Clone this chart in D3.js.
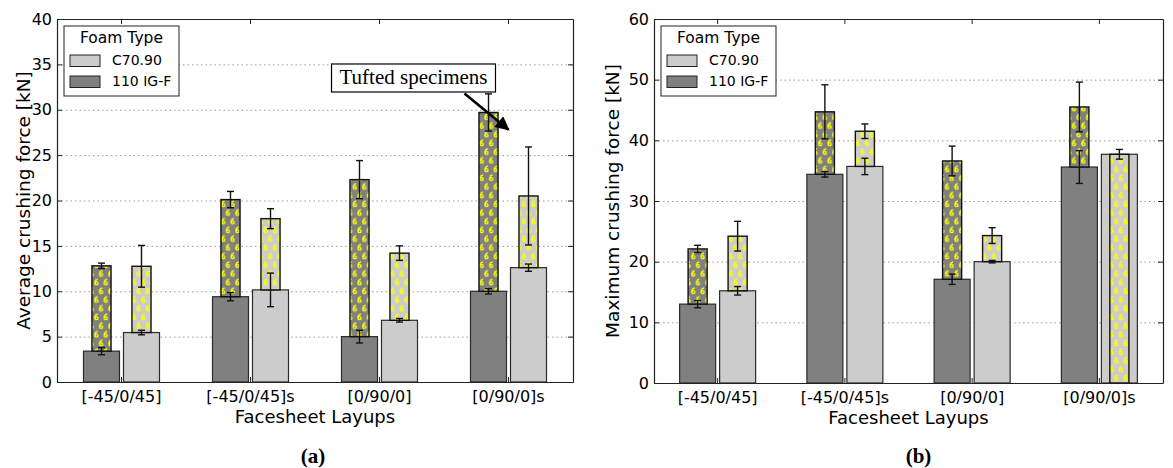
<!DOCTYPE html>
<html>
<head>
<meta charset="utf-8">
<script src="https://cdn.jsdelivr.net/npm/d3@7"></script>
<style>
  html, body { margin: 0; padding: 0; background: #fff; }
  svg { display: block; }
  text { font-family: "DejaVu Sans", sans-serif; fill: #000; }
</style>
</head>
<body>
<svg id="chart" width="1173" height="468"></svg>
<script>
// ---------- data ----------
const categories = ["[-45/0/45]", "[-45/0/45]s", "[0/90/0]", "[0/90/0]s"];
const seriesNames = ["110 IG-F", "C70.90"];
const legendOrder = ["C70.90", "110 IG-F"];

// (a) Average crushing force [kN]
const avgBase110 = [3.4, 9.4, 5.0, 10.0];
const avgBase110Err = [0.4, 0.45, 0.7, 0.3];
const avgBaseC70 = [5.45, 10.15, 6.8, 12.6];
const avgBaseC70Err = [0.25, 1.85, 0.2, 0.4];
const avgTuft110 = [12.8, 20.1, 22.3, 29.7];
const avgTuft110Err = [0.3, 0.9, 2.1, 2.05];
const avgTuftC70 = [12.75, 18.0, 14.2, 20.5];
const avgTuftC70Err = [2.3, 1.1, 0.8, 5.4];
const avgTicks = [0, 5, 10, 15, 20, 25, 30, 35, 40];

// (b) Maximum crushing force [kN]
const maxBase110 = [13.0, 34.4, 17.1, 35.6];
const maxBase110Err = [0.6, 0.45, 0.85, 2.7];
const maxBaseC70 = [15.2, 35.7, 20.0, 37.7];
const maxBaseC70Err = [0.7, 1.35, 0.2, 0.8];
const maxTuft110 = [22.1, 44.7, 36.6, 45.5];
const maxTuft110Err = [0.6, 4.45, 2.45, 4.1];
const maxTuftC70 = [24.2, 41.5, 24.3, 37.7];
const maxTuftC70Err = [2.45, 1.2, 1.3, 0];
const maxTicks = [0, 10, 20, 30, 40, 50, 60];

const annotationText = "Tufted specimens";
const annotationTarget = {cat: "[0/90/0]s", value: 27.8};
const annotationFrom = {value: 31.8, dx: -44};
const annotationBox = {value: 33.5, dx: -95};

// ---------- style ----------
const colors = {"110 IG-F": "#808080", "C70.90": "#cccccc"};

const svg = d3.select("#chart");
const defs = svg.append("defs");

// hatch pattern with yellow glyphs
function makePattern(id, bg) {
  const p = defs.append("pattern").attr("id", id)
    .attr("patternUnits", "userSpaceOnUse")
    .attr("width", 9.4).attr("height", 17.4);
  p.append("rect").attr("width", 9.4).attr("height", 17.4).attr("fill", bg);
  const glyph = (g, x, y) => {
    const gg = g.append("g").attr("transform", `translate(${x},${y})`);
    gg.append("circle").attr("cx", 0).attr("cy", 1.2).attr("r", 1.45)
      .attr("fill", "none").attr("stroke", "#ffff00").attr("stroke-width", 1.35);
    gg.append("path").attr("d", "M-1.45,1.2 C-1.5,-1.5 -0.2,-2.7 1.4,-2.8")
      .attr("fill", "none").attr("stroke", "#ffff00").attr("stroke-width", 1.35);
  };
  glyph(p, 2.4, 3.8);
  glyph(p, 7.1, 12.5);
  glyph(p, 7.1 - 9.4, 12.5);
}
makePattern("tuft-dark", colors["110 IG-F"]);
makePattern("tuft-light", colors["C70.90"]);
const patternFor = {"110 IG-F": "url(#tuft-dark)", "C70.90": "url(#tuft-light)"};

function drawPanel(cfg) {
  const {left, right, top, bottom, ticks, yLabel, base, baseErr, tuft, tuftErr, tag} = cfg;
  const g = svg.append("g");
  const x = d3.scaleBand().domain(categories).range([left, right]);
  const x1 = d3.scaleBand().domain(seriesNames).range([-38, 38]).paddingInner(0.1);
  const y = d3.scaleLinear().domain([ticks[0], ticks[ticks.length - 1]]).range([bottom, top]);
  const bw = x1.bandwidth();
  const tw = bw * 0.53;
  const cx = (cat, s) => x(cat) + x.bandwidth() / 2 + x1(s) + bw / 2;

  // gridlines
  g.append("g").attr("transform", `translate(${left},0)`)
    .call(d3.axisLeft(y).tickValues(ticks.slice(1, -1)).tickSize(-(right - left)).tickFormat(""))
    .call(a => a.select(".domain").remove())
    .call(a => a.selectAll("line").attr("stroke", "#999").attr("stroke-width", 1)
      .attr("stroke-dasharray", "1.5,3"));

  const rows = [];
  categories.forEach((c, i) => {
    seriesNames.forEach(s => {
      rows.push({cat: c, s, base: base[s][i], baseErr: baseErr[s][i], tuft: tuft[s][i], tuftErr: tuftErr[s][i]});
    });
  });

  // base bars
  g.selectAll(".base").data(rows).join("rect")
    .attr("x", d => cx(d.cat, d.s) - bw / 2)
    .attr("width", bw)
    .attr("y", d => y(d.base))
    .attr("height", d => y(0) - y(d.base))
    .attr("fill", d => colors[d.s])
    .attr("stroke", "#2a2a2a").attr("stroke-width", 1.2);

  // tufted bars (stacked on top of base; full-height when not exceeding it)
  g.selectAll(".tuft").data(rows).join("rect")
    .attr("x", d => cx(d.cat, d.s) - tw / 2)
    .attr("width", tw)
    .attr("y", d => y(Math.max(d.tuft, d.base)))
    .attr("height", d => (d.tuft > d.base ? y(d.base) : y(0)) - y(Math.max(d.tuft, d.base)))
    .attr("fill", d => patternFor[d.s])
    .attr("stroke", "#111").attr("stroke-width", 1.4);

  // error bars
  const errs = [];
  rows.forEach(d => {
    if (d.baseErr > 0) errs.push({x: cx(d.cat, d.s), v: d.base, e: d.baseErr});
    if (d.tuftErr > 0) errs.push({x: cx(d.cat, d.s), v: d.tuft, e: d.tuftErr});
  });
  const eg = g.selectAll(".err").data(errs).join("g").attr("stroke", "#111").attr("stroke-width", 1.4);
  eg.append("line").attr("x1", d => d.x).attr("x2", d => d.x)
    .attr("y1", d => y(d.v - d.e)).attr("y2", d => y(d.v + d.e));
  eg.append("line").attr("x1", d => d.x - 3.5).attr("x2", d => d.x + 3.5)
    .attr("y1", d => y(d.v + d.e)).attr("y2", d => y(d.v + d.e));
  eg.append("line").attr("x1", d => d.x - 3.5).attr("x2", d => d.x + 3.5)
    .attr("y1", d => y(d.v - d.e)).attr("y2", d => y(d.v - d.e));

  // axes (ticks inward on all sides)
  const styleAxis = a => {
    a.select(".domain").attr("stroke", "#222").attr("stroke-width", 1.2);
    a.selectAll(".tick line").attr("stroke", "#222");
    a.selectAll("text").style("font-family", "DejaVu Sans, sans-serif").style("font-size", "16px").attr("fill", "#111");
  };
  g.append("g").attr("transform", `translate(0,${bottom})`)
    .call(d3.axisBottom(x).tickSizeInner(-5).tickSizeOuter(0).tickPadding(9))
    .call(styleAxis);
  g.append("g").attr("transform", `translate(0,${top})`)
    .call(d3.axisTop(x).tickSizeInner(-5).tickSizeOuter(0).tickFormat(""))
    .call(styleAxis);
  g.append("g").attr("transform", `translate(${left},0)`)
    .call(d3.axisLeft(y).tickValues(ticks).tickSizeInner(-5).tickSizeOuter(0).tickPadding(5))
    .call(styleAxis);
  g.append("g").attr("transform", `translate(${right},0)`)
    .call(d3.axisRight(y).tickValues(ticks).tickSizeInner(-5).tickSizeOuter(0).tickFormat(""))
    .call(styleAxis);

  // axis labels
  g.append("text").attr("x", (left + right) / 2).attr("y", bottom + 41)
    .attr("text-anchor", "middle").style("font-size", "18px").text("Facesheet Layups");
  g.append("text").attr("transform", `translate(${left - cfg.ylabDx},${(top + bottom) / 2}) rotate(-90)`)
    .attr("text-anchor", "middle").style("font-size", "18.5px").text(yLabel);

  // panel tag
  g.append("text").attr("x", (left + right) / 2 + cfg.tagDx).attr("y", 463)
    .attr("text-anchor", "middle")
    .style("font-family", "Liberation Serif, serif").style("font-weight", "bold").style("font-size", "21px")
    .text(tag);

  // legend
  const lx = left + 7, ly = top + 7;
  const lg = g.append("g");
  lg.append("rect").attr("x", lx).attr("y", ly).attr("width", 115).attr("height", 70)
    .attr("fill", "#fff").attr("stroke", "#222").attr("stroke-width", 1);
  lg.append("text").attr("x", lx + 57.5).attr("y", ly + 17).attr("text-anchor", "middle")
    .style("font-size", "15.5px").text("Foam Type");
  legendOrder.forEach((s, i) => {
    lg.append("rect").attr("x", lx + 6).attr("y", ly + 29 + i * 21).attr("width", 30).attr("height", 11.5)
      .attr("fill", colors[s]).attr("stroke", "#222").attr("stroke-width", 1);
    lg.append("text").attr("x", lx + 48).attr("y", ly + 39 + i * 21)
      .style("font-size", "14px").text(s);
  });

  return {x, y};
}

const A = drawPanel({
  left: 57, right: 573, top: 19, bottom: 382, ticks: avgTicks, ylabDx: 27,
  yLabel: "Average crushing force [kN]", tag: "(a)", tagDx: -2,
  base: {"110 IG-F": avgBase110, "C70.90": avgBaseC70},
  baseErr: {"110 IG-F": avgBase110Err, "C70.90": avgBaseC70Err},
  tuft: {"110 IG-F": avgTuft110, "C70.90": avgTuftC70},
  tuftErr: {"110 IG-F": avgTuft110Err, "C70.90": avgTuftC70Err}
});

drawPanel({
  left: 654, right: 1163, top: 19, bottom: 383, ticks: maxTicks, ylabDx: 35,
  yLabel: "Maximum crushing force [kN]", tag: "(b)", tagDx: 10,
  base: {"110 IG-F": maxBase110, "C70.90": maxBaseC70},
  baseErr: {"110 IG-F": maxBase110Err, "C70.90": maxBaseC70Err},
  tuft: {"110 IG-F": maxTuft110, "C70.90": maxTuftC70},
  tuftErr: {"110 IG-F": maxTuft110Err, "C70.90": maxTuftC70Err}
});

// annotation in panel (a)
const tipX = A.x(annotationTarget.cat) + A.x.bandwidth() / 2;
const tipY = A.y(annotationTarget.value);
const fromX = tipX + annotationFrom.dx;
const fromY = A.y(annotationFrom.value);
defs.append("marker").attr("id", "arrowhead").attr("viewBox", "0 0 10 10")
  .attr("refX", 9).attr("refY", 5).attr("markerUnits", "userSpaceOnUse")
  .attr("markerWidth", 16).attr("markerHeight", 14).attr("orient", "auto")
  .append("path").attr("d", "M0,0 L10,5 L0,10 Z").attr("fill", "#000");
const ann = svg.append("g");
ann.append("line").attr("x1", fromX).attr("y1", fromY).attr("x2", tipX).attr("y2", tipY)
  .attr("stroke", "#000").attr("stroke-width", 2.6).attr("marker-end", "url(#arrowhead)");
const bx = tipX + annotationBox.dx, by = A.y(annotationBox.value);
const boxRect = ann.append("rect");
const at = ann.append("text").attr("x", bx).attr("y", by + 6).attr("text-anchor", "middle")
  .style("font-family", "Liberation Serif, serif").style("font-size", "21px").text(annotationText);
const bb = at.node().getBBox();
boxRect.attr("x", bb.x - 8).attr("y", by - 14).attr("width", bb.width + 16).attr("height", 28)
  .attr("fill", "#fff").attr("stroke", "#000").attr("stroke-width", 1.2);
</script>
</body>
</html>
